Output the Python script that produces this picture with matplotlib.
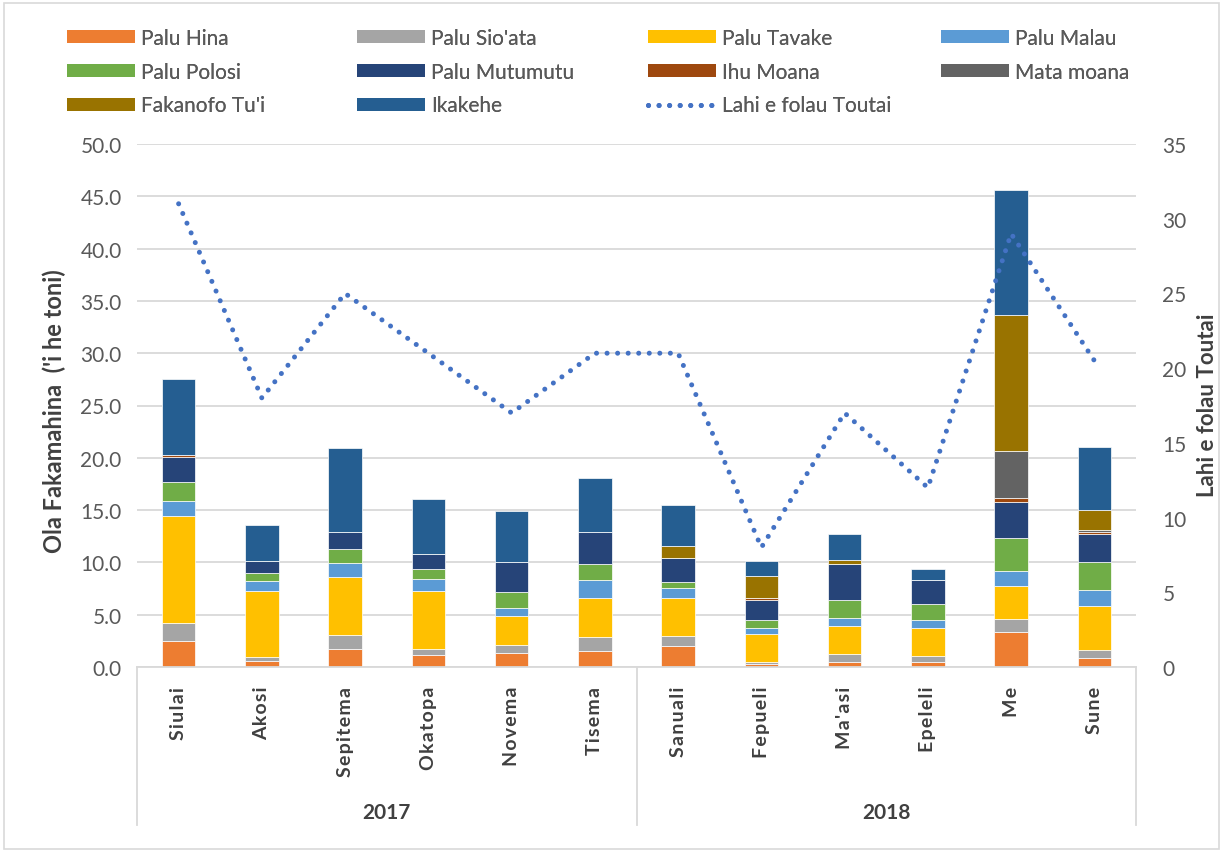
import numpy as np
import matplotlib.pyplot as plt
from matplotlib.patches import Rectangle, Patch
from matplotlib.lines import Line2D
from matplotlib.transforms import blended_transform_factory

plt.rcParams['font.family'] = ['Lato', 'DejaVu Sans']

# Datos
meses = ['Siulai', 'Akosi', 'Sepitema', 'Okatopa', 'Novema', 'Tisema',
         'Sanuali', 'Fepueli', "Ma'asi", 'Epeleli', 'Me', 'Sune']
anos = ['2017', '2018']

palu_hina = [2.5, 0.6, 1.75, 1.18, 1.37, 1.56, 1.98, 0.25, 0.45, 0.45, 3.32, 0.83]
palu_sioata = [1.75, 0.4, 1.34, 0.57, 0.76, 1.34, 0.95, 0.2, 0.76, 0.57, 1.3, 0.77]
palu_tavake = [10.15, 6.3, 5.54, 5.55, 2.71, 3.67, 3.64, 2.68, 2.71, 2.71, 3.09, 4.2]
palu_malau = [1.5, 0.95, 1.34, 1.14, 0.76, 1.72, 0.95, 0.57, 0.76, 0.73, 1.5, 1.53]
palu_polosi = [1.76, 0.75, 1.34, 0.96, 1.54, 1.53, 0.58, 0.76, 1.7, 1.53, 3.09, 2.67]
palu_mutumutu = [2.45, 1.16, 1.57, 1.37, 2.86, 3.06, 2.29, 1.92, 3.44, 2.3, 3.44, 2.69]
ihu_moana = [0.2, 0, 0.05, 0, 0, 0, 0, 0.19, 0, 0, 0.39, 0.19]
mata_moana = [0, 0, 0, 0, 0, 0, 0, 0, 0, 0, 4.55, 0.19]
fakanofo = [0, 0, 0, 0, 0, 0, 1.15, 2.1, 0.38, 0, 12.97, 1.91]
ikakehe = [7.2, 3.44, 7.96, 5.29, 4.94, 5.16, 3.98, 1.49, 2.49, 1.11, 11.98, 6.05]
lahi_folau = [31, 18, 25, 21, 17, 21, 21, 8, 17, 12, 29, 20.5]

series = [
    ('Palu Hina', palu_hina, '#ED7D31'),
    ("Palu Sio'ata", palu_sioata, '#A5A5A5'),
    ('Palu Tavake', palu_tavake, '#FFC000'),
    ('Palu Malau', palu_malau, '#5B9BD5'),
    ('Palu Polosi', palu_polosi, '#70AD47'),
    ('Palu Mutumutu', palu_mutumutu, '#264478'),
    ('Ihu Moana', ihu_moana, '#9E480E'),
    ('Mata moana', mata_moana, '#636363'),
    ("Fakanofo Tu'i", fakanofo, '#997300'),
    ('Ikakehe', ikakehe, '#255E91'),
]
gris = '#595959'
oscuro = '#404040'

fig = plt.figure(figsize=(12.23, 8.54), dpi=100)
ax = fig.add_axes([137/1223, 1 - 668/854, (1136-137)/1223, (668-145)/854])

x = np.arange(len(meses))
base = np.zeros(len(meses))
for nombre, vals, col in series:
    v = np.array(vals, dtype=float)
    ax.bar(x, v, 0.4, bottom=base, color=col, edgecolor='white', linewidth=0.5, zorder=2)
    base += v

ax.set_xlim(-0.5, len(meses) - 0.5)
ax.set_ylim(0, 50)
ax.set_yticks(np.arange(0, 50.1, 5))
ax.set_yticklabels([f'{t:.1f}' for t in np.arange(0, 50.1, 5)])
ax.grid(axis='y', color='#D9D9D9', linewidth=1.3, zorder=0)
ax.set_axisbelow(True)
for s in ['top', 'left', 'right']:
    ax.spines[s].set_visible(False)
ax.spines['bottom'].set_color('#D9D9D9')
ax.spines['bottom'].set_linewidth(1.3)
ax.tick_params(axis='y', length=0, labelsize=15, labelcolor=gris, pad=11)
ax.set_xticks([])

# Eje de categorias en dos niveles
tr = blended_transform_factory(ax.transData, ax.transAxes)
for i, m in enumerate(meses):
    ax.text(i, -0.036, '\u200a'.join(m), rotation=90, ha='center', va='top',
            transform=tr, fontsize=14, fontweight='bold', color=oscuro)
for xs in [-0.5, 5.5, 11.5]:
    ax.plot([xs, xs], [0, -0.302], transform=tr, color='#D9D9D9', lw=1.3,
            clip_on=False)
for j, a in enumerate(anos):
    ax.text(2.5 + 6 * j, -0.277, a, ha='center', va='center', transform=tr,
            fontsize=15, fontweight='bold', color=oscuro)

# Eje secundario
ax2 = ax.twinx()
ax2.plot(x, lahi_folau, color='#4472C4', linewidth=3.6,
         linestyle=(0, (0.01, 2.1)), dash_capstyle='round', zorder=5)
ax2.set_ylim(0, 35)
ax2.set_yticks(np.arange(0, 36, 5))
for s in ['top', 'left', 'right', 'bottom']:
    ax2.spines[s].set_visible(False)
ax2.tick_params(axis='y', length=0, labelsize=15, labelcolor=gris, pad=19)

# Titulos de los ejes
fig.text(54/1223, 1 - 411/854, "Ola Fakamahina  ('i he toni)", rotation=90,
         ha='center', va='center', fontsize=17, fontweight='bold', color=oscuro)
fig.text(1207/1223, 1 - 405/854, 'Lahi e folau Toutai', rotation=90,
         ha='center', va='center', fontsize=16, fontweight='bold', color=oscuro)

# Leyenda: cuatro columnas con paso fijo
handles = [Patch(facecolor=c, label=n) for n, _, c in series]
handles.append(Line2D([0], [0], color='#4472C4', linewidth=3.6,
                      linestyle=(0, (0.01, 2.1)), dash_capstyle='round',
                      label='Lahi e folau Toutai'))
columnas = [[0, 4, 8], [1, 5, 9], [2, 6, 10], [3, 7]]
col_x = [67, 357, 648, 941]
fs = 15
fs_px = fs * 100 / 72
for cx, idx in zip(col_x, columnas):
    leg = fig.legend(handles=[handles[k] for k in idx], loc='upper left',
                     bbox_to_anchor=(cx/1223, 1 - 29/854), frameon=False,
                     fontsize=fs, handlelength=68/fs_px, handleheight=0.6,
                     labelspacing=0.66, handletextpad=6/fs_px,
                     borderpad=0, borderaxespad=0, labelcolor=gris)
    fig.add_artist(leg)

fig.patches.append(Rectangle((4/1223, 4/854), 1 - 8/1223, 1 - 8/854,
                             transform=fig.transFigure, fill=False,
                             edgecolor='#D9D9D9', linewidth=1.2))

fig.savefig('out.png', dpi=100)
